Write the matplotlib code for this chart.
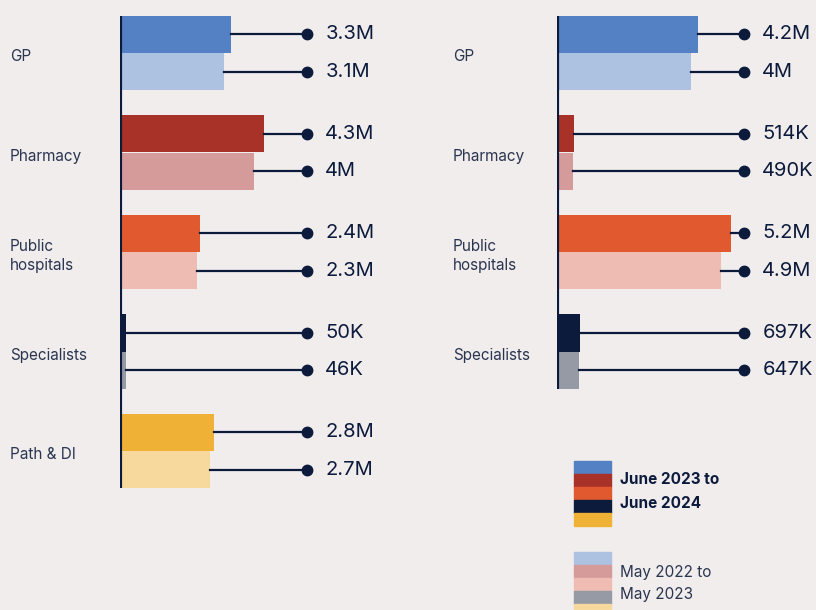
import matplotlib
matplotlib.use("Agg")
import matplotlib.pyplot as plt
from matplotlib.patches import Rectangle

BG = "#f1eded"
NAVY = "#0c1b3c"

categories_left = ["GP", "Pharmacy", "Public\nhospitals", "Specialists", "Path & DI"]
recent_left = [3.3, 4.3, 2.4, 0.050, 2.8]      # June 2023 to June 2024, millions
prior_left = [3.1, 4.0, 2.3, 0.046, 2.7]       # May 2022 to May 2023, millions
recent_left_lbl = ["3.3M", "4.3M", "2.4M", "50K", "2.8M"]
prior_left_lbl = ["3.1M", "4M", "2.3M", "46K", "2.7M"]

categories_right = ["GP", "Pharmacy", "Public\nhospitals", "Specialists"]
recent_right = [4.2, 0.514, 5.2, 0.697]
prior_right = [4.0, 0.490, 4.9, 0.647]
recent_right_lbl = ["4.2M", "514K", "5.2M", "697K"]
prior_right_lbl = ["4M", "490K", "4.9M", "647K"]

recent_colors = ["#5480c4", "#a93228", "#e15a2f", "#0c1b3c", "#f0b236"]
prior_colors = ["#adc2e0", "#d49b9a", "#eebcb3", "#959aa4", "#f7d89d"]

plt.rcParams["font.family"] = ["Inter", "DejaVu Sans"]

W, H = 816, 610
fig = plt.figure(figsize=(W / 100, H / 100), dpi=100, facecolor=BG)

PX_PER_M = 33.5
GROUP_PX = 99.5
TOP_PX = 53
BAR_H = 0.372
DOT_X = 5.58


def panel(left_px, width_px, cats, recent, prior, rlbl, plbl, label_x_px):
    ax = fig.add_axes([left_px / W, 0, width_px / W, 1])
    ax.set_facecolor("none")
    ax.set_xlim(0, width_px / PX_PER_M)
    ax.set_ylim((H - TOP_PX) / GROUP_PX, -TOP_PX / GROUP_PX)
    ax.axis("off")
    n = len(cats)
    for i in range(n):
        for val, lbl, col, off in [(recent[i], rlbl[i], recent_colors[i], -BAR_H / 2),
                                   (prior[i], plbl[i], prior_colors[i], BAR_H / 2)]:
            y = i + off
            w = max(val, 0.18)
            ax.barh(y, w, height=BAR_H, color=col, left=0)
            ax.plot([w, DOT_X], [y, y], color=NAVY, lw=1.6, zorder=3)
            ax.plot(DOT_X, y, "o", color=NAVY, ms=7.5, zorder=4)
            ax.text(DOT_X + 0.55, y, lbl, fontsize=14.5, color=NAVY,
                    va="center", ha="left")
        ax.text((label_x_px - left_px) / PX_PER_M, i + 0.04, cats[i], fontsize=11,
                color="#2a3550", va="center", ha="left", linespacing=1.3)
    ax.plot([0, 0], [-BAR_H, n - 1 + BAR_H], color=NAVY, lw=3,
            solid_capstyle="butt", zorder=5)
    return ax


panel(120, 290, categories_left, recent_left, prior_left,
      recent_left_lbl, prior_left_lbl, 10)
panel(557, 259, categories_right, recent_right, prior_right,
      recent_right_lbl, prior_right_lbl, 453)

# legend swatches: stacked stripes of each period's colours
def swatch(top_px, colors):
    for k, c in enumerate(colors):
        y0 = H - (top_px + 13 * (k + 1))
        fig.patches.append(Rectangle((574 / W, y0 / H), 37 / W, 13 / H,
                                     transform=fig.transFigure, color=c))

swatch(461, recent_colors)
swatch(552, prior_colors)

fig.text(620 / W, 1 - 480 / H, "June 2023 to", fontsize=11, fontweight="bold",
         color=NAVY, va="center")
fig.text(620 / W, 1 - 503 / H, "June 2024", fontsize=11, fontweight="bold",
         color=NAVY, va="center")
fig.text(620 / W, 1 - 573 / H, "May 2022 to", fontsize=11, color="#2a3550",
         va="center")
fig.text(620 / W, 1 - 595 / H, "May 2023", fontsize=11, color="#2a3550",
         va="center")

fig.savefig("out.png", dpi=100, facecolor=BG)
